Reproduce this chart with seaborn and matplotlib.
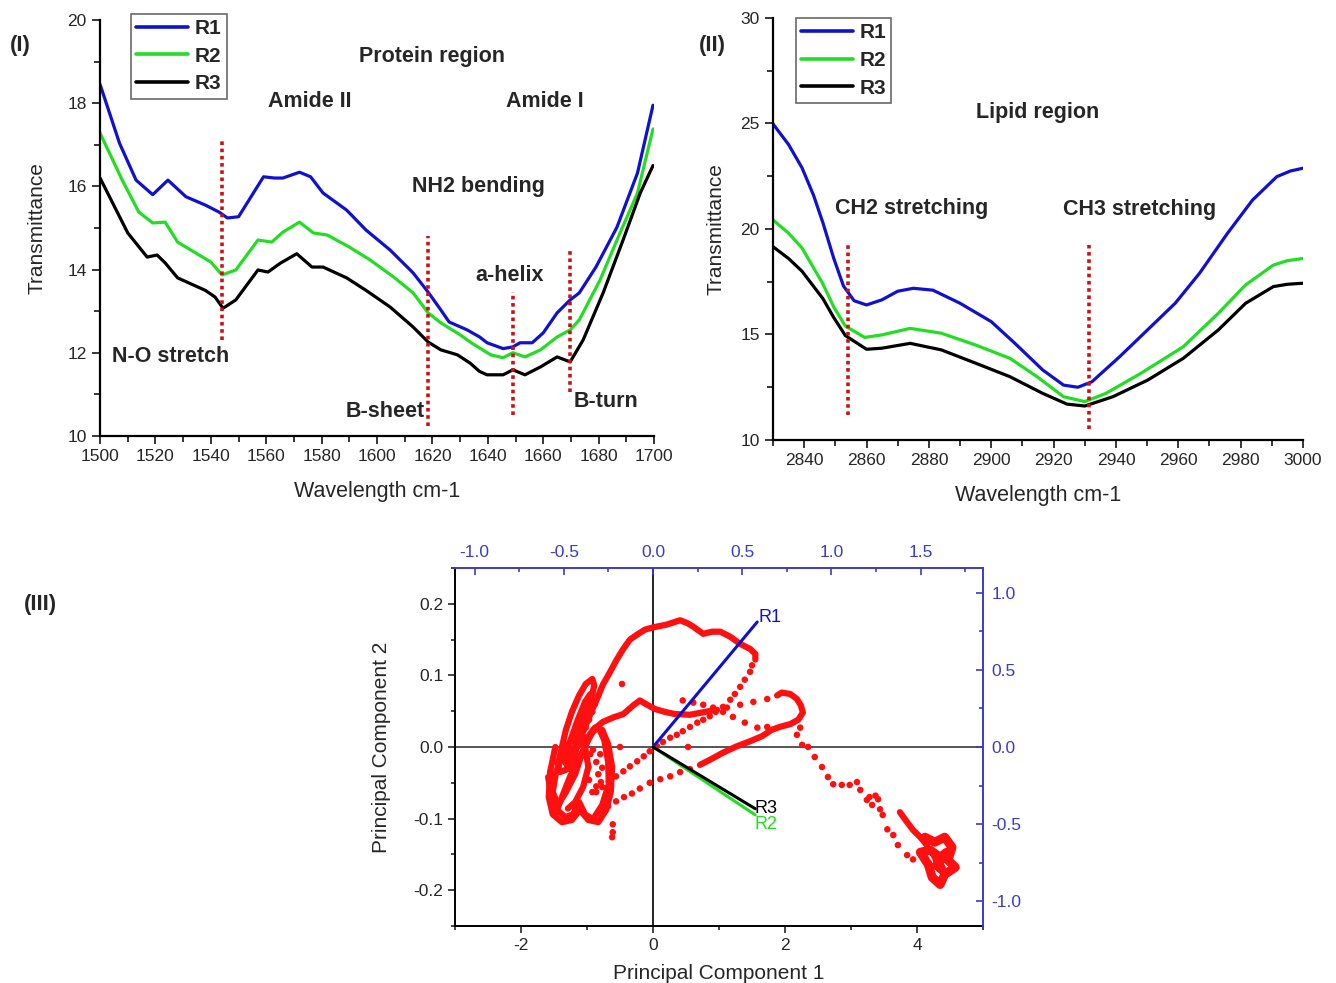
import numpy as np
import pandas as pd
import matplotlib
matplotlib.use("Agg")
import matplotlib.pyplot as plt
import seaborn as sns
from matplotlib.ticker import MultipleLocator, FuncFormatter

# ---------------- data: panel I (protein region) ----------------
prot_r1_x = [1500, 1507, 1513, 1519, 1524.5, 1531, 1538, 1543, 1546, 1550, 1559, 1563, 1566, 1572,
             1576, 1580.5, 1589, 1596, 1604.7, 1613, 1618.4, 1623, 1626, 1632.5, 1637, 1639.7, 1645.5,
             1649, 1651.6, 1656, 1660, 1665, 1669.7, 1673, 1679, 1686.6, 1694, 1699.6]
prot_r1_y = [18.45, 17.04, 16.15, 15.8, 16.15, 15.75, 15.55, 15.38, 15.24, 15.27, 16.23, 16.2, 16.2, 16.34,
             16.23, 15.84, 15.43, 14.95, 14.47, 13.92, 13.46, 13.03, 12.74, 12.55, 12.38, 12.24, 12.1,
             12.14, 12.24, 12.24, 12.48, 12.96, 13.27, 13.44, 14.06, 15.02, 16.32, 17.95]
prot_r2_x = [1500, 1508, 1514, 1519, 1523.5, 1528, 1534, 1540, 1544, 1549, 1557, 1562, 1566, 1572,
             1577, 1582, 1590, 1597.5, 1606, 1613, 1618.4, 1623, 1630, 1634, 1641, 1645.5, 1649,
             1653.4, 1659, 1665, 1669.7, 1673, 1680.5, 1687.7, 1694, 1699.6]
prot_r2_y = [17.28, 16.15, 15.38, 15.12, 15.14, 14.66, 14.42, 14.18, 13.87, 13.99, 14.71, 14.66, 14.9, 15.14,
             14.88, 14.83, 14.54, 14.23, 13.82, 13.44, 12.96, 12.72, 12.43, 12.24, 11.95, 11.88, 12.0,
             11.9, 12.07, 12.38, 12.55, 12.79, 13.75, 14.88, 15.84, 17.38]
prot_r3_x = [1500, 1510, 1517, 1520.6, 1523.5, 1528, 1538, 1541.5, 1544.4, 1549, 1557, 1560.6, 1565, 1571,
             1576.5, 1580.5, 1589, 1596, 1604.7, 1613, 1618.4, 1623, 1629, 1633.6, 1637, 1639.7, 1645.5,
             1649, 1653.4, 1659, 1665, 1669.7, 1674.4, 1681.6, 1688.8, 1695, 1699.6]
prot_r3_y = [16.2, 14.88, 14.3, 14.35, 14.16, 13.8, 13.5, 13.34, 13.07, 13.27, 13.99, 13.94, 14.15, 14.38,
             14.06, 14.06, 13.8, 13.5, 13.1, 12.62, 12.26, 12.07, 11.95, 11.75, 11.55, 11.47, 11.47,
             11.59, 11.47, 11.66, 11.9, 11.78, 12.31, 13.44, 14.71, 15.84, 16.5]
prot_marks_x = [1544, 1618.5, 1649, 1669.5]
prot_marks_top = [17.1, 14.8, 13.45, 14.45]
prot_marks_bottom = [12.3, 10.25, 10.5, 11.05]

# ---------------- data: panel II (lipid region) ----------------
lip_r1_x = [2830, 2835, 2839.3, 2843, 2846, 2849.5, 2852.6, 2856, 2860, 2864.9, 2870, 2875, 2881.3, 2890,
            2900, 2907.6, 2916.5, 2923.2, 2927.8, 2932.3, 2941.2, 2950, 2959, 2966.8, 2975.8, 2983.8,
            2991.6, 2996, 3000]
lip_r1_y = [24.98, 24.0, 22.9, 21.6, 20.3, 18.6, 17.3, 16.6, 16.4, 16.64, 17.05, 17.19, 17.1, 16.48,
            15.61, 14.58, 13.32, 12.6, 12.5, 12.76, 13.95, 15.2, 16.48, 17.9, 19.8, 21.37,
            22.48, 22.75, 22.88]
lip_r2_x = [2830, 2835, 2839.3, 2846, 2849.5, 2853.2, 2859.4, 2864.9, 2874, 2884, 2895, 2906, 2914.7,
            2923.2, 2930, 2936.8, 2948, 2961.6, 2972.8, 2981.6, 2990.5, 2995, 3000]
lip_r2_y = [20.43, 19.8, 19.1, 17.4, 16.3, 15.4, 14.86, 14.98, 15.29, 15.06, 14.5, 13.87, 13.0,
            12.05, 11.82, 12.21, 13.16, 14.42, 16.0, 17.35, 18.29, 18.5, 18.6]
lip_r3_x = [2830, 2835, 2839.3, 2846, 2849.5, 2853.2, 2860, 2864.9, 2874, 2884, 2895, 2906, 2916.5,
            2924.3, 2930, 2939, 2950.2, 2961.6, 2972.8, 2981.6, 2990.5, 2995, 3000]
lip_r3_y = [19.16, 18.6, 18.0, 16.7, 15.8, 14.95, 14.3, 14.35, 14.58, 14.27, 13.64, 13.0, 12.21,
            11.7, 11.61, 12.05, 12.84, 13.87, 15.21, 16.48, 17.27, 17.38, 17.43]
lip_marks_x = [2854, 2931.5]
lip_marks_top = [19.35, 19.25]
lip_marks_bottom = [11.2, 10.5]

# ---------------- data: panel III (PCA biplot) ----------------
# dense traces (scores so close together they merge into a line)
arc_pc1 = [-1.26, -1.15, -1.06, -0.95, -0.85, -0.76, -0.65, -0.55, -0.45, -0.35, -0.24, -0.12, 0.0,
           0.21, 0.41, 0.52, 0.61, 0.76, 0.89, 1.02, 1.17, 1.32, 1.47, 1.55, 1.55]
arc_pc2 = [-0.031, 0.0, 0.021, 0.046, 0.067, 0.087, 0.105, 0.122, 0.137, 0.150, 0.157, 0.164, 0.167,
           0.171, 0.177, 0.173, 0.168, 0.158, 0.161, 0.161, 0.154, 0.144, 0.137, 0.130, 0.122]
loop_a_pc1 = [-1.03, -0.91, -0.76, -0.61, -0.45, -0.30, -0.20, -0.09, 0.03, 0.18, 0.33, 0.56, 0.79, 0.97]
loop_a_pc2 = [0.007, 0.024, 0.035, 0.041, 0.046, 0.058, 0.065, 0.059, 0.053, 0.049, 0.046, 0.045, 0.049, 0.052]
loop_b_pc1 = [1.88, 1.95, 2.08, 2.18, 2.24, 2.27, 2.20, 2.08, 1.92, 1.80, 1.65, 1.47, 1.27, 1.06, 0.86, 0.71]
loop_b_pc2 = [0.072, 0.076, 0.074, 0.067, 0.058, 0.048, 0.038, 0.032, 0.028, 0.024, 0.015, 0.008,
              0.001, -0.008, -0.018, -0.025]
ellipse_pc1 = [-1.44, -1.38, -1.32, -1.23, -1.12, -1.02, -0.92, -0.89, -0.95, -1.05, -1.14, -1.23, -1.32, -1.41, -1.44]
ellipse_pc2 = [-0.024, 0.0, 0.024, 0.049, 0.072, 0.088, 0.095, 0.086, 0.063, 0.038, 0.011, -0.014,
               -0.032, -0.035, -0.024]
inner_pc1 = [-1.33, -1.26, -1.14, -1.03, -0.95, -0.98, -1.08, -1.18, -1.29, -1.33]
inner_pc2 = [-0.021, 0.007, 0.038, 0.063, 0.074, 0.056, 0.028, 0.0, -0.028, -0.021]
tangle_pc1 = [-1.59, -1.53, -1.45, -1.33, -1.21, -1.12, -1.03, -0.91, -0.77, -0.67, -0.68, -0.74, -0.83,
              -0.95, -1.08, -1.18, -1.32, -1.44, -1.52, -1.47, -1.36, -1.26, -1.14, -1.03, -0.98, -1.06,
              -1.18, -1.29]
tangle_pc2 = [-0.042, -0.070, -0.088, -0.098, -0.094, -0.077, -0.094, -0.101, -0.081, -0.052, -0.021,
              0.010, 0.028, 0.018, -0.010, -0.038, -0.063, -0.081, -0.063, -0.035, -0.010, 0.007,
              0.014, 0.0, -0.028, -0.056, -0.077, -0.086]
outer_pc1 = [-1.48, -1.56, -1.58, -1.52, -1.38, -1.23, -1.11, -0.98, -0.83, -0.71, -0.64, -0.62, -0.68,
             -0.77, -0.88, -0.98, -1.11, -1.26, -1.38, -1.47]
outer_pc2 = [0.0, -0.035, -0.070, -0.094, -0.105, -0.102, -0.088, -0.102, -0.105, -0.088, -0.063, -0.028,
             0.004, 0.024, 0.027, 0.010, -0.014, -0.042, -0.070, -0.091]
stroke_pc1 = [3.74, 3.85, 3.94, 4.05, 4.15]
stroke_pc2 = [-0.091, -0.105, -0.116, -0.126, -0.137]
cluster_pc1 = [4.12, 4.27, 4.42, 4.53, 4.47, 4.58, 4.42, 4.35, 4.23, 4.17, 4.05, 4.20, 4.35, 4.45,
               4.30, 4.38, 4.27]
cluster_pc2 = [-0.126, -0.133, -0.126, -0.140, -0.158, -0.168, -0.178, -0.192, -0.182, -0.164, -0.147,
               -0.144, -0.154, -0.147, -0.165, -0.172, -0.150]

# sparse scores (individual dots)
dots_pc1 = [1.50, 1.47, 1.39, 1.32, 1.24, 1.17, 1.06, 0.95, 0.86, 0.76, 0.67, 0.56, 0.45, 0.36, 0.26,
            0.15, 0.06, -0.05, -0.14, -0.24, -0.35, -0.45, -0.56, -0.67, -0.77, -0.86,
            1.12, 1.32, 1.52, 1.73,
            0.56, 0.41, 0.26, 0.11, -0.05, -0.20, -0.32, -0.44, -0.56, -0.68, -0.80,
            0.45, 0.61, 0.76, 0.91, 1.06, 1.21, 1.39, 1.58, 1.73,
            2.23, 2.18, 2.26, 2.35, 2.45, 2.56, 2.65, 2.73, 2.86, 2.98, 3.09, 3.14, 3.24, 3.32, 3.41,
            3.44, 3.48, 3.55, 3.64, 3.71, 3.85, 3.94, 3.28, 3.37,
            -0.91, -0.86, -0.83, -0.86, -0.92, -0.97, -0.98, -0.95, -0.80, -0.77, -0.79,
            -0.83, -0.88, -0.92, -0.97, -1.02, -1.06,
            -0.61, -0.61, -0.62, -0.47, -0.50, 0.53]
dots_pc2 = [0.114, 0.105, 0.094, 0.084, 0.074, 0.066, 0.056, 0.049, 0.043, 0.038, 0.034, 0.028, 0.022,
            0.017, 0.013, 0.007, 0.001, -0.006, -0.013, -0.020, -0.027, -0.034, -0.041, -0.048, -0.056, -0.063,
            0.055, 0.059, 0.063, 0.067,
            -0.031, -0.035, -0.041, -0.045, -0.050, -0.058, -0.065, -0.070, -0.076, -0.083, -0.088,
            0.065, 0.062, 0.059, 0.055, 0.049, 0.042, 0.034, 0.027, 0.028,
            0.027, 0.017, 0.003, 0.0, -0.014, -0.028, -0.042, -0.052, -0.053, -0.053, -0.049, -0.060,
            -0.074, -0.081, -0.073, -0.087, -0.095, -0.115, -0.123, -0.137, -0.151, -0.157, -0.070, -0.068,
            -0.004, -0.021, -0.038, -0.055, -0.063, -0.046, -0.028, -0.010, -0.010, -0.029, -0.049,
            0.072, 0.060, 0.049, 0.038, 0.027, 0.015,
            -0.108, -0.119, -0.126, 0.088, 0.0, 0.0]

# loadings (top / right axes)
load_names = ["R1", "R2", "R3"]
load_x = [0.584, 0.573, 0.573]
load_y = [0.81, -0.44, -0.40]

colors = {"R1": "#1010d0", "R2": "#22dd22", "R3": "#000000"}
axis_blue = "#3a3ad0"
mark_red = "#cc1111"
score_red = "#ff1010"

sns.set_style("white")
plt.rcParams["font.family"] = ["Liberation Sans", "DejaVu Sans"]

fig = plt.figure(figsize=(13.36, 9.83), dpi=100)


def long_frame(xs, ys):
    rows = []
    for name, x, y in zip(load_names, xs, ys):
        rows.append(pd.DataFrame({"x": x, "y": y, "series": name}))
    return pd.concat(rows, ignore_index=True)


def style_spectrum(ax, ypad):
    sns.despine(ax=ax)
    for s in ["left", "bottom"]:
        ax.spines[s].set_linewidth(1.6)
        ax.spines[s].set_color("black")
    ax.tick_params(which="both", direction="out", length=6, width=1.3, labelsize=12.5,
                   left=True, bottom=True)
    ax.tick_params(which="minor", length=4)
    ax.set_xlabel("Wavelength cm-1", fontsize=15.5, labelpad=12)
    ax.set_ylabel("Transmittance", fontsize=15, labelpad=ypad)
    leg = ax.get_legend()
    if leg is not None:
        leg.remove()


def add_legend(ax, anchor):
    handles, labels = ax.get_legend_handles_labels()
    leg = ax.legend(handles, labels, loc="upper left", bbox_to_anchor=anchor, frameon=True,
                    fancybox=False, edgecolor="#444444", handlelength=2.5, handletextpad=0.3,
                    labelspacing=0.42, borderpad=0.25, borderaxespad=0.0,
                    prop={"weight": "bold", "size": 15})
    for line in leg.get_lines():
        line.set_linewidth(2.6)
    leg.get_frame().set_linewidth(1.2)


tkw = dict(fontsize=15.5, fontweight="bold", ha="center", va="center")

# ---------------- panel I ----------------
ax1 = fig.add_axes([0.0749, 0.5565, 0.4147, 0.4232])
df1 = long_frame([prot_r1_x, prot_r2_x, prot_r3_x], [prot_r1_y, prot_r2_y, prot_r3_y])
sns.lineplot(data=df1, x="x", y="y", hue="series", palette=colors, sort=False, estimator=None,
             linewidth=2.3, ax=ax1)
ax1.vlines(prot_marks_x, prot_marks_bottom, prot_marks_top, colors=mark_red, linestyles=(0, (1, 1)),
           linewidth=2.6)
ax1.set_xlim(1500, 1700)
ax1.set_ylim(10, 20)
ax1.xaxis.set_major_locator(MultipleLocator(20))
ax1.xaxis.set_minor_locator(MultipleLocator(10))
ax1.yaxis.set_major_locator(MultipleLocator(2))
ax1.yaxis.set_minor_locator(MultipleLocator(1))
style_spectrum(ax1, 15)
add_legend(ax1, (0.056, 1.015))
ax1.text(1620, 19.13, "Protein region", **tkw)
ax1.text(1575.8, 18.05, "Amide II", **tkw)
ax1.text(1660.6, 18.05, "Amide I", **tkw)
ax1.text(1636.5, 15.99, "NH2 bending", **tkw)
ax1.text(1647.7, 13.85, "a-helix", **tkw)
ax1.text(1525.3, 11.92, "N-O stretch", **tkw)
ax1.text(1603, 10.6, "B-sheet", **tkw)
ax1.text(1682.7, 10.82, "B-turn", **tkw)

# ---------------- panel II ----------------
ax2 = fig.add_axes([0.5786, 0.5524, 0.3967, 0.4293])
df2 = long_frame([lip_r1_x, lip_r2_x, lip_r3_x], [lip_r1_y, lip_r2_y, lip_r3_y])
sns.lineplot(data=df2, x="x", y="y", hue="series", palette=colors, sort=False, estimator=None,
             linewidth=2.3, ax=ax2)
ax2.vlines(lip_marks_x, lip_marks_bottom, lip_marks_top, colors=mark_red, linestyles=(0, (1, 1)),
           linewidth=2.6)
ax2.set_xlim(2830, 3000)
ax2.set_ylim(10, 30)
ax2.xaxis.set_major_locator(MultipleLocator(20))
ax2.xaxis.set_minor_locator(MultipleLocator(10))
ax2.yaxis.set_major_locator(MultipleLocator(5))
ax2.yaxis.set_minor_locator(MultipleLocator(2.5))
style_spectrum(ax2, 11)
add_legend(ax2, (0.043, 1.0))
ax2.text(2915, 25.5, "Lipid region", **tkw)
ax2.text(2874.6, 20.95, "CH2 stretching", **tkw)
ax2.text(2947.7, 20.9, "CH3 stretching", **tkw)

# ---------------- panel III ----------------
ax3 = fig.add_axes([0.3406, 0.0580, 0.3952, 0.3642])
ax3.axhline(0, color="#555555", lw=1.4, zorder=1)
ax3.axvline(0, color="#222222", lw=1.4, zorder=1)
traces = [(arc_pc1, arc_pc2), (loop_a_pc1, loop_a_pc2), (loop_b_pc1, loop_b_pc2),
          (ellipse_pc1, ellipse_pc2), (inner_pc1, inner_pc2), (tangle_pc1, tangle_pc2),
          (outer_pc1, outer_pc2), (stroke_pc1, stroke_pc2)]
for px, py in traces:
    sns.lineplot(x=px, y=py, sort=False, estimator=None, color=score_red, linewidth=4.5,
                 solid_capstyle="round", solid_joinstyle="round", ax=ax3, zorder=2)
sns.lineplot(x=cluster_pc1, y=cluster_pc2, sort=False, estimator=None, color=score_red, linewidth=6.5,
             solid_capstyle="round", solid_joinstyle="round", ax=ax3, zorder=2)
sns.scatterplot(x=dots_pc1, y=dots_pc2, color=score_red, s=22, edgecolor="none", ax=ax3, zorder=2)
ax3.set_xlim(-3, 5)
ax3.set_ylim(-0.25, 0.25)
ax3.xaxis.set_major_locator(MultipleLocator(2))
ax3.xaxis.set_minor_locator(MultipleLocator(1))
ax3.yaxis.set_major_locator(MultipleLocator(0.1))
ax3.yaxis.set_minor_locator(MultipleLocator(0.05))
ax3.xaxis.set_major_formatter(FuncFormatter(lambda v, p: f"{v:.0f}"))
ax3.yaxis.set_major_formatter(FuncFormatter(lambda v, p: f"{v:.1f}"))
ax3.spines["top"].set_visible(False)
ax3.spines["right"].set_visible(False)
for s in ["left", "bottom"]:
    ax3.spines[s].set_linewidth(1.4)
    ax3.spines[s].set_color("black")
ax3.tick_params(which="both", direction="out", length=5, width=1.2, labelsize=12.5,
                left=True, bottom=True)
ax3.tick_params(which="minor", length=3)
ax3.set_xlabel("Principal Component 1", fontsize=15, labelpad=8)
ax3.set_ylabel("Principal Component 2", fontsize=15, labelpad=16)

# loadings on their own (top / right) scales
ax4 = fig.add_axes(ax3.get_position())
ax4.patch.set_visible(False)
ax4.set_xlim(-1.11, 1.85)
ax4.set_ylim(-1.16, 1.16)
ax4.xaxis.tick_top()
ax4.yaxis.tick_right()
ax4.spines["left"].set_visible(False)
ax4.spines["bottom"].set_visible(False)
for s in ["top", "right"]:
    ax4.spines[s].set_color(axis_blue)
    ax4.spines[s].set_linewidth(1.4)
ax4.xaxis.set_major_locator(MultipleLocator(0.5))
ax4.xaxis.set_minor_locator(MultipleLocator(0.25))
ax4.yaxis.set_major_locator(MultipleLocator(0.5))
ax4.yaxis.set_minor_locator(MultipleLocator(0.25))
ax4.xaxis.set_major_formatter(FuncFormatter(lambda v, p: f"{v:.1f}"))
ax4.yaxis.set_major_formatter(FuncFormatter(lambda v, p: f"{v:.1f}"))
ax4.tick_params(which="both", direction="in", length=5, width=1.2, colors=axis_blue,
                labelsize=12.5, top=True, right=True, bottom=False, left=False, pad=6)
ax4.tick_params(which="minor", length=3)
for name in ["R1", "R2", "R3"]:
    i = load_names.index(name)
    ax4.plot([0, load_x[i]], [0, load_y[i]], color=colors[name], lw=2.2)
ax4.text(load_x[0] + 0.01, load_y[0] + 0.03, "R1", color=colors["R1"], fontsize=13, ha="left", va="center")
ax4.text(load_x[2] - 0.005, load_y[2], "R3", color=colors["R3"], fontsize=13, ha="left", va="center")
ax4.text(load_x[1] - 0.005, load_y[1] - 0.06, "R2", color=colors["R2"], fontsize=13, ha="left", va="center")

# panel tags
fig.text(0.015, 0.954, "(I)", fontsize=16, fontweight="bold", ha="center", va="center")
fig.text(0.533, 0.954, "(II)", fontsize=16, fontweight="bold", ha="center", va="center")
fig.text(0.030, 0.385, "(III)", fontsize=16, fontweight="bold", ha="center", va="center")

fig.savefig("out.png", dpi=100)
